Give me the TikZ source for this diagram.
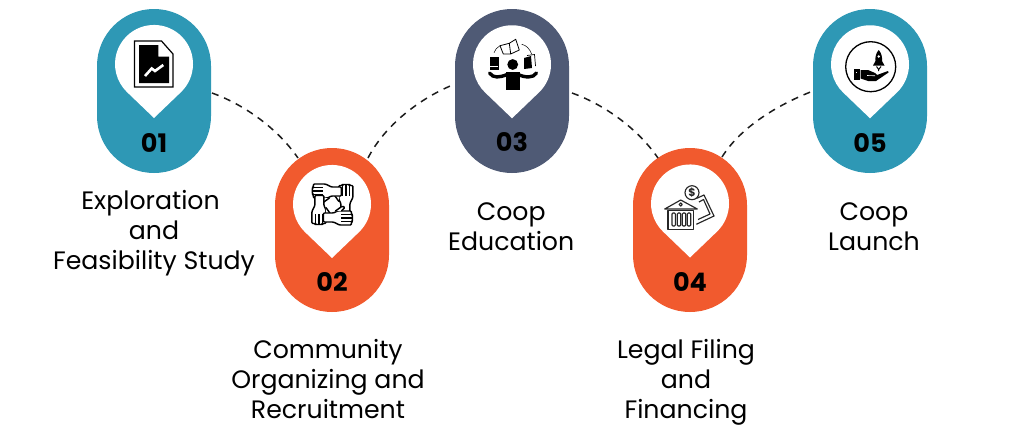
\documentclass[tikz,border=0pt]{standalone}
\usepackage{fontspec}
\setmainfont{Poppins}
\usetikzlibrary{calc}
\definecolor{teal}{HTML}{2E98B5}
\definecolor{orangex}{HTML}{F15A2E}
\definecolor{slate}{HTML}{4F5A75}
\definecolor{ink}{HTML}{1C1C1C}
\tikzset{
  capsule/.style={minimum width=114pt,minimum height=164pt,inner sep=0pt,rounded corners=57pt,fill=#1},
  numlabel/.style={font=\fontsize{25.5}{30}\bfseries\selectfont,text=black,inner sep=0pt},
  steplabel/.style={font=\fontsize{25.2}{30}\selectfont,align=center,text=black,inner sep=0pt},
  conn/.style={draw=ink,line width=1.5pt,dash pattern=on 7pt off 6pt},
  icon/.style={draw=black,line width=1.2pt},
  thin icon/.style={draw=black!85,line width=1.15pt,line join=round},
}
\newcommand{\pinmark}[2]{\fill[white,shift={(#1,#2)}] (0,54) -- (27,28.1) arc[start angle=-46.2,end angle=226.2,radius=39pt] -- cycle;}
\begin{document}
\begin{tikzpicture}[x=1pt,y=-1pt]
\useasboundingbox (0,0) rectangle (1024,434);
\fill[white] (0,0) rectangle (1024,434);
% capsules
\node[capsule=teal] (c1) at (154,91) {};
\node[capsule=orangex] (c2) at (332,230) {};
\node[capsule=slate] (c3) at (512,91) {};
\node[capsule=orangex] (c4) at (690,230) {};
\node[capsule=teal] (c5) at (870,91) {};
% connectors
\coordinate (a1) at ($(c1.center)+(58,2)$);
\coordinate (b2) at ($(c2.center)+(-34,-72)$);
\coordinate (a2) at ($(c2.center)+(36,-72)$);
\coordinate (b3) at ($(c3.center)+(-57,-7)$);
\coordinate (a3) at ($(c3.center)+(60,2)$);
\coordinate (b4) at ($(c4.center)+(-32,-72)$);
\coordinate (a4) at ($(c4.center)+(32,-73)$);
\coordinate (b5) at ($(c5.center)+(-57,0)$);
\draw[conn] (a1) .. controls +(28,10) and +(-23,-33) .. (b2);
\draw[conn] (a2) .. controls +(17,-33) and +(-35,14) .. (b3);
\draw[conn] (a3) .. controls +(28,10) and +(-23,-33) .. (b4);
\draw[conn] (a4) .. controls +(20,-32) and +(-31,12) .. (b5);
% pins
\pinmark{154}{64}
\pinmark{332}{204}
\pinmark{512}{64.3}
\pinmark{690}{203.5}
\pinmark{870}{64.3}
% numbers
\node[numlabel] (n1) at (154,142.5) {01};
\node[numlabel] (n2) at (332,281.5) {02};
\node[numlabel] (n3) at (512,142.5) {03};
\node[numlabel] (n4) at (690,281.5) {04};
\node[numlabel] (n5) at (870,142.5) {05};
% labels
\node[steplabel] (t1) at (154,233.5) {Exploration\hspace*{7pt}\\and\\Feasibility Study};
\node[steplabel] (t2) at (328,379.5) {Community\\Organizing and\\Recruitment};
\node[steplabel] (t3) at (511.2,226.5) {Coop\\Education};
\node[steplabel] (t4) at (686,382) {Legal Filing\\and\\Financing};
\node[steplabel] (t5) at (874,226.5) {Coop\\Launch};
% icon 1: document with chart
\draw[icon,fill=white,line join=miter] (134.5,41) -- (161.5,41) -- (173,54) -- (173,87) -- (134.5,87) -- cycle;
\fill[black] (139,45) -- (158.3,45) -- (158.3,56.5) -- (169,56.5) -- (169,83) -- (139,83) -- cycle;
\draw[white,line width=2.6pt,line join=miter] (145,76) -- (151.7,68.5) -- (155,71) -- (163.3,65);
% icon 2: four linked hands
\foreach \r in {0,90,180,270}{
\begin{scope}[shift={(332.4,204.5)},rotate=\r,line width=1.45pt,line join=round]
 \filldraw[draw=black,fill=white,rounded corners=1pt] (8.5,9) -- (8.5,-1) -- (6.5,-5) -- (6.5,-19) -- (10,-19) -- (10.2,-20) -- (13.5,-20) -- (13.7,-20) -- (17,-20) -- (17.2,-19) -- (20.5,-19) -- (20.5,-7) -- (17.5,-1) -- (17.5,9) -- cycle;
 \draw (10.1,-19) -- (10.1,-9) (13.6,-20) -- (13.6,-9) (17.1,-19) -- (17.1,-9);
 \filldraw[draw=black,fill=white,rounded corners=1pt] (6.5,-9) -- (3,-12.5) -- (1.5,-10) -- (6.5,-3);
\end{scope}}
% icon 3: person juggling books
\fill[black] (512.7,64.5) circle[radius=5.4pt];
\fill[black] (506,72) rectangle (519.5,90);
\draw[black,line width=3.4pt,line cap=round] (489.5,73) .. controls (493,78.5) and (500,77.5) .. (507,74.5);
\draw[black,line width=3.4pt,line cap=round] (518,74.5) .. controls (525,77.5) and (533,78.5) .. (536.5,73);
\fill[black] (489.5,57) rectangle (498.7,69.5);
\draw[white,line width=0.5pt] (490,66.5) -- (498.2,66.5);
\fill[black] (524,58) -- (531,56) -- (532,68) -- (524,69) -- cycle;
\draw[black,line width=0.7pt] (527,55.5) -- (534.5,54.5) -- (535.5,66);
\draw[black,line width=0.8pt,line join=round] (500,45.7) -- (509.3,43.3) -- (515.7,39.3) -- (519.3,50) -- (510.7,54) -- (503.3,54) -- cycle (509.3,43.3) -- (510.7,54);
\draw[black,line width=0.5pt] (494,52.7) .. controls (495,50) and (497,47) .. (500,45.7);
\draw[black,line width=0.5pt] (521.7,44.3) .. controls (526,45) and (530,49) .. (531.7,54.3);
% icon 4: bank and money
\draw[thin icon] (696.3,198.5) -- (704,195) -- (714,216) -- (696.3,224.3);
\draw[thin icon] (699,202) -- (703.5,199.5) -- (710,214) -- (698,219.5);
\draw[thin icon,fill=white] (692,192.7) circle[radius=7pt];
\node[font=\fontsize{11}{11}\bfseries\selectfont,text=black!85,inner sep=0pt] (dollar) at (692,192.7) {\$};
\draw[thin icon,fill=white] (664.7,209) -- (680.7,200) -- (697.3,209) -- cycle;
\draw[thin icon] (680.7,204.5) circle[radius=1.6pt];
\draw[thin icon,fill=white] (668,210.5) rectangle (693.7,229.3);
\foreach \cx in {672,677.3,682.3,687.3}{
 \draw[thin icon,rounded corners=1pt] (\cx,213) rectangle (\cx+3.4,226);}
% icon 5: rocket over hand in a circle
\draw[black,line width=1.3pt] (870.7,66.7) circle[radius=25pt];
\fill[black] (878.7,50) .. controls (881.5,53) and (882.3,57) .. (882,61) -- (884.5,65.5) -- (873,65.5) -- (875.5,61) .. controls (875,57) and (876,53) .. (878.7,50) -- cycle;
\fill[white] (878.7,56.5) circle[radius=1.3pt];
\draw[black,line width=1pt] (876.5,66.5) -- (878.7,69.5) -- (881,66.5) (878.7,69.5) -- (878.7,71);
\fill[black] (854,68.5) rectangle (859.7,80);
\fill[white] (855.6,72) rectangle (857,73.3);
\fill[black] (860.7,70) -- (868,70) -- (875,73) -- (877,75) -- (888,71) -- (888.5,72.5) -- (876,81) -- (868,81) -- (860.7,78.5) -- cycle;
\draw[white,line width=0.6pt] (867,75.5) -- (875,75.8);
\end{tikzpicture}
\end{document}
